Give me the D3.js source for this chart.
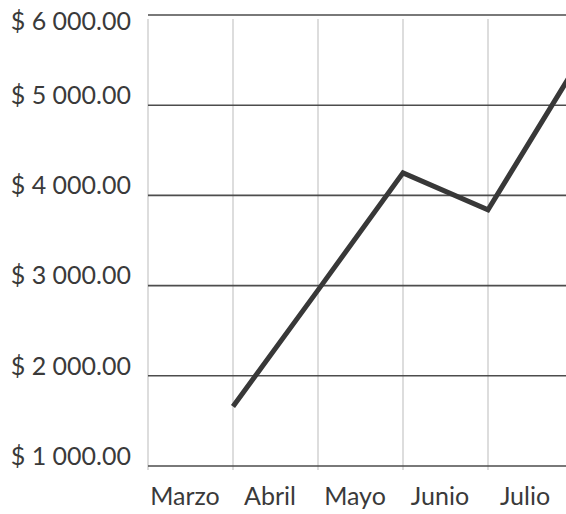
<!DOCTYPE html>
<html>
<head>
<meta charset="utf-8">
<script src="https://cdn.jsdelivr.net/npm/d3@7"></script>
<style>
  html, body { margin: 0; padding: 0; background: #fff; }
  svg { display: block; }
  text { font-family: Lato, "Liberation Sans", sans-serif; fill: #3a3a3a; }
</style>
</head>
<body>
<svg id="chart" width="566" height="514"></svg>
<script>
// Monthly totals (the series runs on past the last labelled month)
const months = ["Marzo", "Abril", "Mayo", "Junio", "Julio", "Agosto"];
const values = [null, 1660, 2950, 4250, 3840, 5380];
const yTicks = [1000, 2000, 3000, 4000, 5000, 6000];

const width = 566, height = 514;
const svg = d3.select("#chart");

const x = d3.scalePoint().domain(months).range([148, 573]);
const y = d3.scaleLinear().domain([1000, 6000]).range([466, 15]);

const money = d3.formatLocale({
  decimal: ".", thousands: " ", grouping: [3], currency: ["$ ", ""]
}).format("$,.2f");

// vertical grid lines at each month
svg.append("g")
  .selectAll("line")
  .data(months)
  .join("line")
  .attr("x1", d => x(d)).attr("x2", d => x(d))
  .attr("y1", y(6000) + 4).attr("y2", y(1000) + 4)
  .attr("stroke", "#d2d2d2")
  .attr("stroke-width", 1.5);

// horizontal grid lines
svg.append("g")
  .selectAll("line")
  .data(yTicks)
  .join("line")
  .attr("x1", x.range()[0]).attr("x2", width)
  .attr("y1", d => y(d)).attr("y2", d => y(d))
  .attr("stroke", "#4d4d4d")
  .attr("stroke-width", 1.6);

// y-axis labels, kept inside the drawing area at the top
svg.append("g")
  .selectAll("text")
  .data(yTicks)
  .join("text")
  .attr("x", 131)
  .attr("y", d => Math.max(y(d) - 10, 21))
  .attr("dy", "0.35em")
  .attr("text-anchor", "end")
  .attr("font-size", 25)
  .text(d => money(d));

// x-axis month labels (only those that fit on the page)
const labelX = d => x(d) + 37;
svg.append("g")
  .selectAll("text")
  .data(months.filter(d => labelX(d) + 30 < width))
  .join("text")
  .attr("x", labelX)
  .attr("y", 505)
  .attr("text-anchor", "middle")
  .attr("font-size", 25)
  .text(d => d);

// the series line
const line = d3.line()
  .defined((d, i) => values[i] != null)
  .x((d, i) => x(months[i]))
  .y((d, i) => y(values[i]));

svg.append("path")
  .datum(values)
  .attr("d", line)
  .attr("fill", "none")
  .attr("stroke", "#383838")
  .attr("stroke-width", 5)
  .attr("stroke-linejoin", "miter");
</script>
</body>
</html>
